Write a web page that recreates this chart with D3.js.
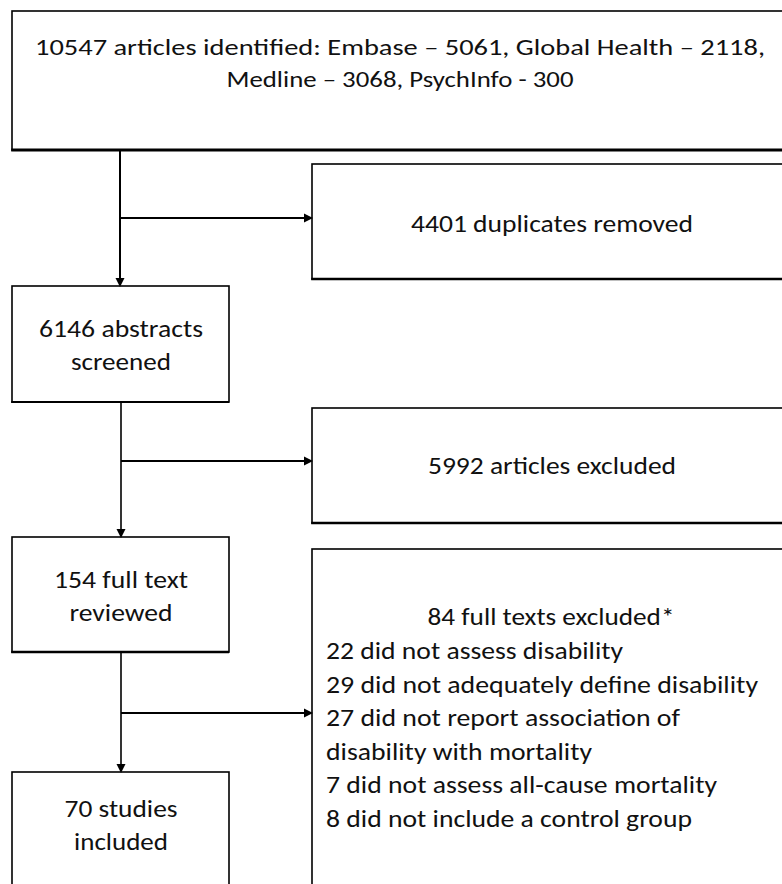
<!DOCTYPE html>
<html>
<head>
<meta charset="utf-8">
<script src="https://cdn.jsdelivr.net/npm/d3@7"></script>
<style>
  html, body { margin: 0; padding: 0; background: #fff; }
  svg { display: block; }
  text { font-family: Carlito, Calibri, Lato, "Open Sans", sans-serif; fill: #111; }
</style>
</head>
<body>
<svg id="chart" width="782" height="884"></svg>
<script>
// ---- data ----
const identifiedLines = ["10547 articles identified: Embase \u2013 5061, Global Health \u2013 2118,", "Medline \u2013 3068, PsychInfo - 300"];
const duplicatesLines = ["4401 duplicates removed"];
const screenedLines = ["6146 abstracts", "screened"];
const excludedLines = ["5992 articles excluded"];
const reviewedLines = ["154 full text", "reviewed"];
const includedLines = ["70 studies", "included"];
const fullTextTitle = "84 full texts excluded*";
const fullTextReasons = ["22 did not assess disability", "29 did not adequately define disability", "27 did not report association of", "disability with mortality", "7 did not assess all-cause mortality", "8 did not include a control group"];

// ---- layout ----
const svg = d3.select("#chart");

function box(x, y, w, h, thickBottom) {
  svg.append("rect").attr("x", x).attr("y", y).attr("width", w).attr("height", h)
    .attr("fill", "#fff").attr("stroke", "#000").attr("stroke-width", 1.6);
  if (thickBottom) {
    svg.append("line").attr("x1", x - 0.8).attr("x2", x + w).attr("y1", y + h).attr("y2", y + h)
      .attr("stroke", "#000").attr("stroke-width", thickBottom);
  }
}

function lines(arr, cx, baseline0, step, size, anchor, targetWidths) {
  arr.forEach((t, i) => {
    const el = svg.append("text").attr("x", cx).attr("y", baseline0 + i * step)
      .attr("font-size", size).attr("text-anchor", anchor || "middle").text(t);
    if (targetWidths && targetWidths[i]) {
      el.attr("textLength", targetWidths[i]).attr("lengthAdjust", "spacingAndGlyphs");
    }
  });
}

function arrowHead(x, y, dir) {
  const L = 9, Hw = 4.5;
  let pts;
  if (dir === "down") pts = [[x, y], [x - Hw, y - L], [x + Hw, y - L]];
  else pts = [[x, y], [x - L, y - Hw], [x - L, y + Hw]];
  svg.append("path").attr("d", d3.line()(pts) + "Z").attr("fill", "#000");
}

function vline(x, y1, y2, w) {
  svg.append("line").attr("x1", x).attr("x2", x).attr("y1", y1).attr("y2", y2)
    .attr("stroke", "#000").attr("stroke-width", w || 1.6);
}
function hline(x1, x2, y, w) {
  svg.append("line").attr("x1", x1).attr("x2", x2).attr("y1", y).attr("y2", y)
    .attr("stroke", "#000").attr("stroke-width", w || 1.6);
}

const leftX = 12, leftW = 217, rightX = 312, rightW = 500, topW = 790;
const cxL = leftX + leftW / 2 + 0.5;
const cxR = 552;

// boxes
box(leftX, 11, topW, 139, 3);
box(rightX, 164, rightW, 115, 2.6);
box(leftX, 286, leftW, 116, 2);
box(rightX, 408, rightW, 115, 2.6);
box(leftX, 537, leftW, 115, 2.4);
box(rightX, 549, rightW, 400, 0);
box(leftX, 772, leftW, 200, 0);

// connectors
vline(120, 150, 280, 2);
arrowHead(120, 287, "down");
hline(121, 305, 218, 2);
arrowHead(313, 218, "right");

vline(121, 403, 531, 1.6);
arrowHead(121, 538, "down");
hline(121, 305, 461, 2);
arrowHead(313, 461, "right");

vline(121, 653, 766, 1.6);
arrowHead(121, 773, "down");
hline(121, 305, 713, 2);
arrowHead(313, 713, "right");

// texts
lines(identifiedLines, 400, 55, 32, 23, "middle", [730, 347]);
lines(duplicatesLines, cxR, 232, 33, 24, "middle", [282]);
lines(screenedLines, cxL, 337, 33, 24, "middle", [164, 100]);
lines(excludedLines, cxR, 474, 33, 24, "middle", [248]);
lines(reviewedLines, cxL, 588, 33, 24, "middle", [134, 103]);
lines(includedLines, cxL, 817, 33, 24, "middle", [113, 94]);
lines([fullTextTitle], 551, 625, 33, 24, "middle", [247]);
lines(fullTextReasons, 326, 659, 33.5, 24, "start", [297, 432, 354, 266, 391, 366]);
</script>
</body>
</html>
